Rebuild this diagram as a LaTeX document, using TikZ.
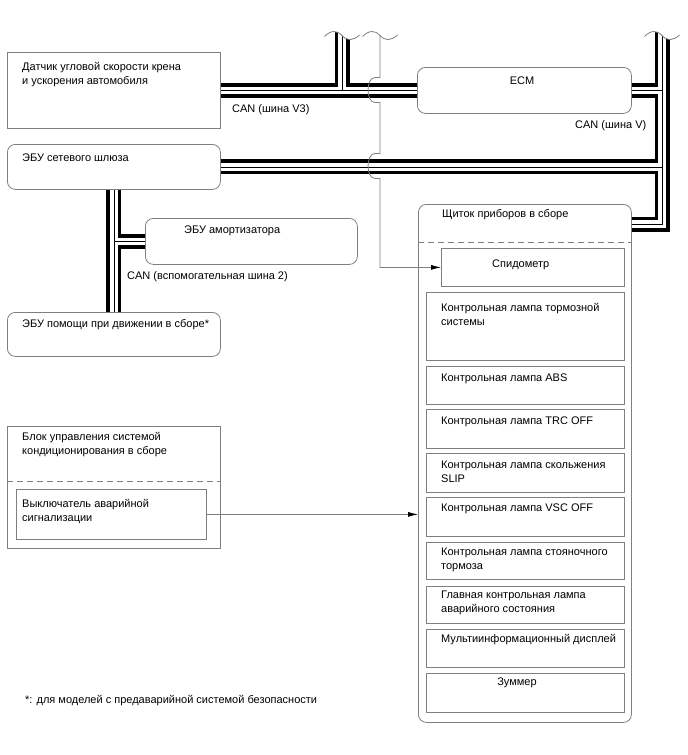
\documentclass[tikz,border=0pt]{standalone}
\usepackage{fontspec}
\setmainfont{Liberation Sans}
\usetikzlibrary{arrows.meta,calc}
\definecolor{boxgray}{HTML}{7F7F7F}
\newcommand{\mlines}[1]{\begin{tabular}[t]{@{}l@{}}#1\end{tabular}}
\begin{document}
\begin{tikzpicture}[x=1pt,y=-1pt,
  box/.style={draw=boxgray, line width=0.8pt, inner sep=0pt, anchor=north west},
  rbox/.style={box, rounded corners=8pt},
  lbl/.style={anchor=base west, inner sep=0pt, font=\fontsize{11}{14.5}\selectfont},
  clbl/.style={lbl, anchor=base},
  sig/.style={draw=boxgray, line width=0.8pt},
  dsh/.style={draw=boxgray, line width=0.8pt, dash pattern=on 6pt off 4pt},
  tip/.style={-{Latex[length=10pt,width=5pt,black]}},
  wave/.style={draw=boxgray, line width=0.8pt}
]
\useasboundingbox (0,0) rectangle (688,755);

% ---------- boxes ----------
\node[box,  minimum width=213pt, minimum height=76pt]  (sensor)  at (7,52) {};
\node[rbox, minimum width=213pt, minimum height=45pt]  (gateway) at (7,144) {};
\node[rbox, minimum width=212pt, minimum height=46pt]  (shock)   at (145,218) {};
\node[rbox, minimum width=213pt, minimum height=44pt]  (assist)  at (7,312) {};
\node[box,  minimum width=213pt, minimum height=122pt] (ac)      at (7,426) {};
\node[box,  minimum width=190pt, minimum height=50pt]  (switch)  at (16,489) {};
\node[rbox, minimum width=214pt, minimum height=46pt]  (ecm)     at (417,67) {};
\node[rbox, minimum width=213pt, minimum height=518pt] (cluster) at (418,204) {};
\node[box,  minimum width=183pt, minimum height=38pt]  (speedo)  at (441,248) {};
\node[box,  minimum width=198pt, minimum height=68pt]  (brake)   at (426,292) {};
\node[box,  minimum width=198pt, minimum height=38pt]  (abs)     at (426,366) {};
\node[box,  minimum width=198pt, minimum height=39pt]  (trc)     at (426,409) {};
\node[box,  minimum width=198pt, minimum height=39pt]  (slip)    at (426,453) {};
\node[box,  minimum width=198pt, minimum height=39pt]  (vsc)     at (426,497) {};
\node[box,  minimum width=198pt, minimum height=37pt]  (park)    at (426,542) {};
\node[box,  minimum width=198pt, minimum height=37pt]  (master)  at (426,586) {};
\node[box,  minimum width=198pt, minimum height=38pt]  (multi)   at (426,629) {};
\node[box,  minimum width=198pt, minimum height=39pt]  (buzzer)  at (426,673) {};

\draw[dsh] ($(cluster.north west)+(0,38)$) -- ($(cluster.north east)+(0,38)$);
\draw[dsh] ($(ac.north west)+(0,55)$) -- ($(ac.north east)+(0,55)$);

% ---------- bus break points ----------
\coordinate (brkA) at (342,28);
\coordinate (brkB) at (662,28);
\coordinate (brkC) at (380,28);
\coordinate (clin) at ($(cluster.north east)+(0,20)$);

% ---------- CAN buses (three layers) ----------
\foreach \w/\c in {15/black, 7.5/white, 0.8/black}{
  \draw[line width=\w pt, \c]
    (sensor.east) -- (ecm.west)
    (brkA) -- (brkA |- sensor.east)
    (ecm.east) -- (ecm.east -| brkB)
    (brkB) -- (brkB |- clin) -- (clin)
    (gateway.east) -- (gateway.east -| brkB)
    (gateway.south) -- (assist.north)
    (shock.west -| gateway.south) -- (shock.west);
}

% ---------- signal line with hops ----------
\draw[sig, tip] (brkC) -- (380,77.5) -- (375,77.5)
   .. controls (365.7,77.5) and (365.7,102.5) .. (375,102.5) -- (380,102.5)
   -- (380,153.5) -- (375,153.5)
   .. controls (365.7,153.5) and (365.7,178.5) .. (375,178.5) -- (380,178.5)
   -- (brkC |- speedo.west) -- (speedo.west);
\draw[sig, tip] (switch.east) -- (switch.east -| cluster.west);

% ---------- break waves ----------
\foreach \cx in {342,380,662}{
  \fill[white] (\cx-17.5,36.5) .. controls (\cx-11,30) and (\cx-5,30) .. (\cx,35.5)
      .. controls (\cx+5,41) and (\cx+11,41) .. (\cx+17.5,35) -- (\cx+17.5,20) -- (\cx-17.5,20) -- cycle;
  \draw[wave] (\cx-17.5,36.5) .. controls (\cx-11,30) and (\cx-5,30) .. (\cx,35.5)
      .. controls (\cx+5,41) and (\cx+11,41) .. (\cx+17.5,35);
}

% ---------- labels ----------
\node[lbl] (tsensor) at (22,70) {\mlines{Датчик угловой скорости крена\\и ускорения автомобиля}};
\node[lbl] (tv3) at (232,112.5) {CAN (шина V3)};
\node[clbl] (tecm) at (522,84) {ECM};
\node[lbl] (tv) at (575,128) {CAN (шина V)};
\node[lbl] (tgateway) at (22,161) {ЭБУ сетевого шлюза};
\node[lbl] (tshock) at (184,233) {ЭБУ амортизатора};
\node[lbl] (tsub) at (127,279) {CAN (вспомогательная шина 2)};
\node[lbl] (tassist) at (22,327) {ЭБУ помощи при движении в сборе*};
\node[lbl] (tac) at (22,440) {\mlines{Блок управления системой\\кондиционирования в сборе}};
\node[lbl] (tswitch) at (22,507) {\mlines{Выключатель аварийной\\сигнализации}};
\node[lbl] (tcluster) at (442,217) {Щиток приборов в сборе};
\node[lbl] (tspeedo) at (492,267) {Спидометр};
\node[lbl] (tbrake) at (441,311) {\mlines{Контрольная лампа тормозной\\системы}};
\node[lbl] (tabs) at (441,381) {Контрольная лампа ABS};
\node[lbl] (ttrc) at (441,424) {Контрольная лампа TRC OFF};
\node[lbl] (tslip) at (441,468) {\mlines{Контрольная лампа скольжения\\SLIP}};
\node[lbl] (tvsc) at (441,511) {Контрольная лампа VSC OFF};
\node[lbl] (tpark) at (441,555) {\mlines{Контрольная лампа стояночного\\тормоза}};
\node[lbl] (tmaster) at (441,598) {\mlines{Главная контрольная лампа\\аварийного состояния}};
\node[lbl] (tmulti) at (441,642) {Мультиинформационный дисплей};
\node[clbl] (tbuzzer) at (517,685.5) {Зуммер};
\node[lbl] (tnote) at (25,703) {*: для моделей с предаварийной системой безопасности};
\end{tikzpicture}
\end{document}
